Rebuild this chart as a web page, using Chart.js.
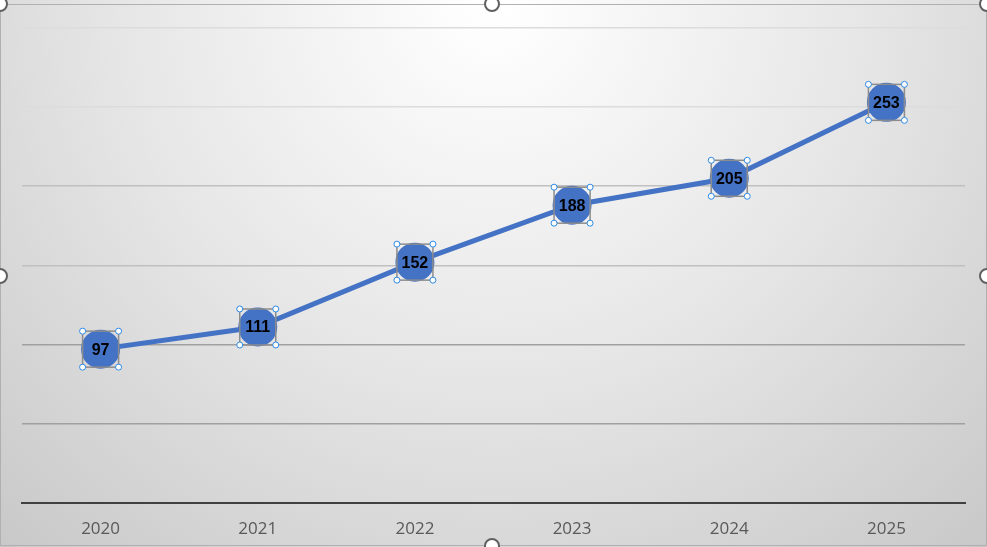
<!DOCTYPE html>
<html><head><meta charset="utf-8">
<script src="https://cdn.jsdelivr.net/npm/chart.js"></script>
<style>html,body{margin:0;padding:0;background:#fff}#w{width:987px;height:547px}</style>
</head><body><div id="w"><canvas id="c"></canvas></div>
<script>
const categories = ['2020','2021','2022','2023','2024','2025'];
const values = [97,111,152,188,205,253];

const bg = {id:'bg',beforeDraw(ch){const c=ch.ctx,w=ch.width,h=ch.height;
  const g=c.createRadialGradient(w*0.5,0,10,w*0.5,0,w*0.75);
  g.addColorStop(0,'#ffffff');g.addColorStop(0.5,'#e6e6e6');g.addColorStop(1,'#c8c8c8');
  c.save();c.fillStyle=g;c.fillRect(0,0,w,h);c.strokeStyle='#b0b0b0';c.lineWidth=1;c.strokeRect(0.5,4.5,w-1,h-6);c.restore();}};
const deco = {id:'deco',afterDatasetsDraw(ch){const c=ch.ctx;const m=ch.getDatasetMeta(0);
  c.save();
  m.data.forEach((p,i)=>{const s=18;
    c.strokeStyle='#8c8c8c';c.lineWidth=1.5;c.strokeRect(p.x-s,p.y-s,2*s,2*s);
    [[-s,-s],[s,-s],[-s,s],[s,s]].forEach(([dx,dy])=>{c.beginPath();c.arc(p.x+dx,p.y+dy,3,0,7);c.fillStyle='#fff';c.fill();c.strokeStyle='#2e8ae6';c.lineWidth=1;c.stroke();});
    c.fillStyle='#000';c.font='bold 16px "Liberation Sans", Arial';c.textAlign='center';c.textBaseline='middle';
    c.fillText(values[i],p.x,p.y+1);
  });
  [[0,4],[492,4],[0,276],[987,276],[492,546],[987,4]].forEach(([x,y])=>{c.beginPath();c.arc(x,y,7,0,7);c.fillStyle='#fff';c.fill();c.strokeStyle='#606060';c.lineWidth=2;c.stroke();});
  c.restore();}};
new Chart(document.getElementById('c'),{type:'line',
 data:{labels:categories,datasets:[{data:values,borderColor:'#4472C4',borderWidth:5,pointRadius:17,pointHoverRadius:17,pointBackgroundColor:'#4472C4',pointBorderColor:'#4472C4',tension:0}]},
 options:{responsive:true,maintainAspectRatio:false,animation:false,devicePixelRatio:1,
  layout:{padding:{top:28,left:15,right:22,bottom:0}},
  plugins:{legend:{display:false},tooltip:{enabled:false}},
  scales:{
   x:{offset:true,grid:{display:false},border:{color:'#404040',width:2},ticks:{color:'#595959',font:{size:17,family:'"Open Sans", Arial'},padding:8}},
   y:{min:0,max:300,ticks:{display:false,stepSize:50},border:{display:false},grid:{drawTicks:false,color:(ctx)=>ctx.tick.value===0?'rgba(0,0,0,0)':(ctx.tick.value>=250?'#dcdcdc':ctx.tick.value>=150?'#c0c0c0':'#a0a0a0'),lineWidth:1.5}}
  }},
 plugins:[bg,deco]});
</script></body></html>
